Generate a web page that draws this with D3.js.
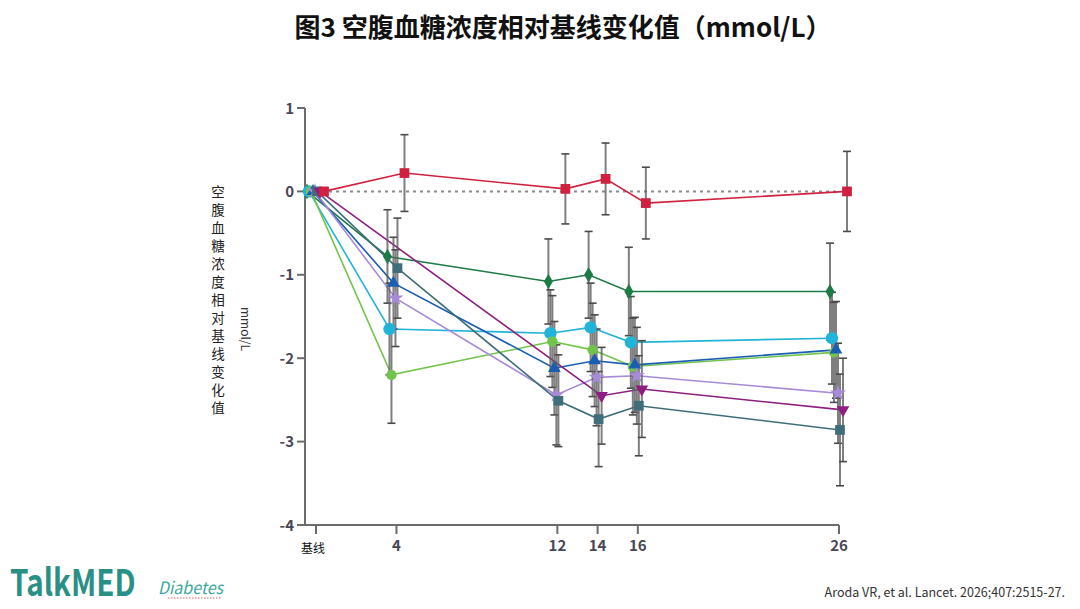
<!DOCTYPE html>
<html lang="zh">
<head>
<meta charset="UTF-8">
<title>图3 空腹血糖浓度相对基线变化值</title>
<style>
  body { margin: 0; background: #fff; }
  svg { display: block; }
  text { font-family: "Noto Sans CJK SC", "Open Sans", sans-serif; }
</style>
</head>
<body>
<svg id="chart" width="1080" height="609"></svg>
<script src="https://d3js.org/d3.v7.min.js"></script>
<script>
// x categories (weeks) and tick labels
const weeks = [0, 4, 12, 14, 16, 26];
const weekLabels = ["基线", "4", "12", "14", "16", "26"];
const yTicks = [1, 0, -1, -2, -3, -4];

// mean change from baseline (mmol/L), one array per group
const redVals        = [0, 0.22, 0.03, 0.15, -0.14, 0.00];
const darkGreenVals  = [0, -0.78, -1.08, -1.00, -1.20, -1.20];
const cyanVals       = [0, -1.65, -1.70, -1.63, -1.81, -1.76];
const lightGreenVals = [0, -2.20, -1.80, -1.90, -2.10, -1.93];
const blueVals       = [0, -1.10, -2.12, -2.03, -2.08, -1.90];
const purpleVals     = [0, -1.28, -2.44, -2.23, -2.21, -2.42];
const magentaVals    = [0, null, null, -2.45, -2.37, -2.62];
const tealVals       = [0, -0.92, -2.51, -2.73, -2.57, -2.86];

// error bar half-widths
const redErr        = [0, 0.46, 0.42, 0.43, 0.43, 0.48];
const darkGreenErr  = [0, 0.56, 0.51, 0.52, 0.53, 0.58];
const cyanErr       = [0, 0.55, 0.52, 0.53, 0.55, 0.55];
const lightGreenErr = [0, 0.58, 0.55, 0.56, 0.58, 0.60];
const blueErr       = [0, 0.55, 0.56, 0.55, 0.57, 0.58];
const purpleErr     = [0, 0.58, 0.60, 0.58, 0.58, 0.60];
const magentaErr    = [0, 0, 0, 0.58, 0.58, 0.62];
const tealErr       = [0, 0.60, 0.55, 0.57, 0.60, 0.67];

const groups = [
  { vals: darkGreenVals,  err: darkGreenErr,  color: "#1e7b46", shape: "diamond",  dx: -9 },
  { vals: cyanVals,       err: cyanErr,       color: "#22b4d8", shape: "circleL",  dx: -7 },
  { vals: lightGreenVals, err: lightGreenErr, color: "#72c44c", shape: "circle",   dx: -5 },
  { vals: blueVals,       err: blueErr,       color: "#1a5db3", shape: "triangle", dx: -3 },
  { vals: purpleVals,     err: purpleErr,     color: "#a88bd8", shape: "star",     dx: -1 },
  { vals: tealVals,       err: tealErr,       color: "#3f6e79", shape: "square",   dx: 1 },
  { vals: magentaVals,    err: magentaErr,    color: "#8d1f80", shape: "triDown",  dx: 4 },
  { vals: redVals,        err: redErr,        color: "#d0213f", shape: "square",   dx: 8 }
];

const svg = d3.select("#chart");

const x = d3.scaleLinear().domain([0, 26]).range([316, 839]);
const y = d3.scaleLinear().domain([-4, 1]).range([525, 108]);
const axisLeftX = 305;

// title
svg.append("text")
  .attr("x", 563).attr("y", 37)
  .attr("text-anchor", "middle")
  .attr("font-size", 26).attr("font-weight", "bold")
  .attr("fill", "#111")
  .text("图3 空腹血糖浓度相对基线变化值（mmol/L）");

// y label (stacked characters)
const yLabel = "空腹血糖浓度相对基线变化值".split("");
svg.append("g").selectAll("text")
  .data(yLabel).enter().append("text")
  .attr("x", 218)
  .attr("y", (d, i) => 197 + i * 18)
  .attr("text-anchor", "middle")
  .attr("font-size", 13.5)
  .attr("fill", "#222")
  .text(d => d);

svg.append("text")
  .attr("transform", "translate(241,329) rotate(90)")
  .attr("text-anchor", "middle")
  .attr("font-size", 12)
  .attr("font-family", "'Open Sans', sans-serif")
  .attr("fill", "#333")
  .text("mmol/L");

// axes
const axisColor = "#6c6c6c";
const g = svg.append("g");

g.append("line")
  .attr("x1", axisLeftX).attr("x2", axisLeftX)
  .attr("y1", y(1)).attr("y2", y(-4))
  .attr("stroke", axisColor).attr("stroke-width", 2);

g.selectAll(".ytick").data(yTicks).enter().append("line")
  .attr("x1", axisLeftX - 8).attr("x2", axisLeftX)
  .attr("y1", d => y(d)).attr("y2", d => y(d))
  .attr("stroke", axisColor).attr("stroke-width", 2);

g.selectAll(".ylab").data(yTicks).enter().append("text")
  .attr("x", axisLeftX - 11)
  .attr("y", d => y(d) + 5.5)
  .attr("text-anchor", "end")
  .attr("font-size", 15).attr("font-weight", "bold")
  .attr("font-family", "'Open Sans', sans-serif")
  .attr("fill", "#4a4656")
  .text(d => d);

g.append("line")
  .attr("x1", axisLeftX).attr("x2", x(26))
  .attr("y1", y(-4)).attr("y2", y(-4))
  .attr("stroke", axisColor).attr("stroke-width", 2);

g.selectAll(".xtick").data(weeks).enter().append("line")
  .attr("x1", d => x(d)).attr("x2", d => x(d))
  .attr("y1", y(-4)).attr("y2", y(-4) + 9)
  .attr("stroke", axisColor).attr("stroke-width", 2);

g.selectAll(".xlab").data(weeks).enter().append("text")
  .attr("x", d => x(d) - (d === 0 ? 3 : 0))
  .attr("y", d => d === 0 ? 553 : 551)
  .attr("text-anchor", "middle")
  .attr("font-size", (d, i) => i === 0 ? 12 : 15)
  .attr("font-weight", (d, i) => i === 0 ? "normal" : "bold")
  .attr("font-family", (d, i) => i === 0 ? "'Noto Sans CJK SC', sans-serif" : "'Open Sans', sans-serif")
  .attr("fill", (d, i) => i === 0 ? "#111" : "#4a4656")
  .text((d, i) => weekLabels[i]);

// zero reference line
g.append("line")
  .attr("x1", x(0) + 6).attr("x2", x(26))
  .attr("y1", y(0)).attr("y2", y(0))
  .attr("stroke", "#8a8a8a").attr("stroke-width", 2)
  .attr("stroke-dasharray", "3,4");

// lines
const line = d3.line()
  .x(d => d.x).y(d => y(d.v));

groups.forEach(grp => {
  grp.pts = weeks.map((w, i) => ({ x: x(w) + grp.dx, v: grp.vals[i], e: grp.err[i] }));
});

const lineG = svg.append("g");
groups.forEach(grp => {
  lineG.append("path")
    .datum(grp.pts.filter(p => p.v !== null))
    .attr("d", line)
    .attr("fill", "none")
    .attr("stroke", grp.color)
    .attr("stroke-width", 1.6);
});

// error bars
const errG = svg.append("g");
groups.forEach(grp => {
  grp.pts.filter(p => p.v !== null && p.e > 0).forEach(p => {
    const top = y(p.v + p.e), bot = y(p.v - p.e);
    errG.append("line")
      .attr("x1", p.x).attr("x2", p.x).attr("y1", top).attr("y2", bot)
      .attr("stroke", "#5f5f5f").attr("stroke-opacity", 0.8).attr("stroke-width", 2);
    [top, bot].forEach(cy => {
      errG.append("line")
        .attr("x1", p.x - 4).attr("x2", p.x + 4).attr("y1", cy).attr("y2", cy)
        .attr("stroke", "#4a4a4a").attr("stroke-width", 1.6);
    });
  });
});

// markers
const symbols = {
  diamond: d3.symbol().type(d3.symbolDiamond).size(70),
  circleL: d3.symbol().type(d3.symbolCircle).size(120),
  circle: d3.symbol().type(d3.symbolCircle).size(85),
  triangle: d3.symbol().type(d3.symbolTriangle).size(70),
  star: d3.symbol().type(d3.symbolStar).size(80),
  square: d3.symbol().type(d3.symbolSquare).size(95),
  triDown: d3.symbol().type(d3.symbolTriangle).size(70)
};

const markG = svg.append("g");
groups.forEach(grp => {
  markG.selectAll(null)
    .data(grp.pts.filter(p => p.v !== null))
    .enter().append("path")
    .attr("d", symbols[grp.shape])
    .attr("transform", p => "translate(" + p.x + "," + y(p.v) + ")" + (grp.shape === "triDown" ? " rotate(180)" : ""))
    .attr("fill", grp.color);
});

// footer
svg.append("text")
  .attr("transform", "translate(10,596) scale(0.8,1)")
  .attr("font-size", 37).attr("font-weight", "bold")
  .attr("font-family", "'Open Sans', sans-serif")
  .attr("fill", "#2a8f85")
  .text("TalkMED");

svg.append("text")
  .attr("x", 158).attr("y", 594)
  .attr("font-size", 17).attr("font-style", "italic")
  .attr("font-family", "'DejaVu Serif', serif")
  .attr("textLength", 65).attr("lengthAdjust", "spacingAndGlyphs")
  .attr("fill", "#3aa89a")
  .text("Diabetes");

svg.append("line")
  .attr("x1", 168).attr("x2", 222).attr("y1", 598).attr("y2", 598)
  .attr("stroke", "#e06060").attr("stroke-width", 1)
  .attr("stroke-dasharray", "1.5,1.5");

svg.append("text")
  .attr("x", 1065).attr("y", 597)
  .attr("text-anchor", "end")
  .attr("font-size", 12.5)
  .attr("font-family", "'Open Sans', sans-serif")
  .attr("fill", "#333")
  .text("Aroda VR, et al. Lancet. 2026;407:2515-27.");
</script>
</body>
</html>
